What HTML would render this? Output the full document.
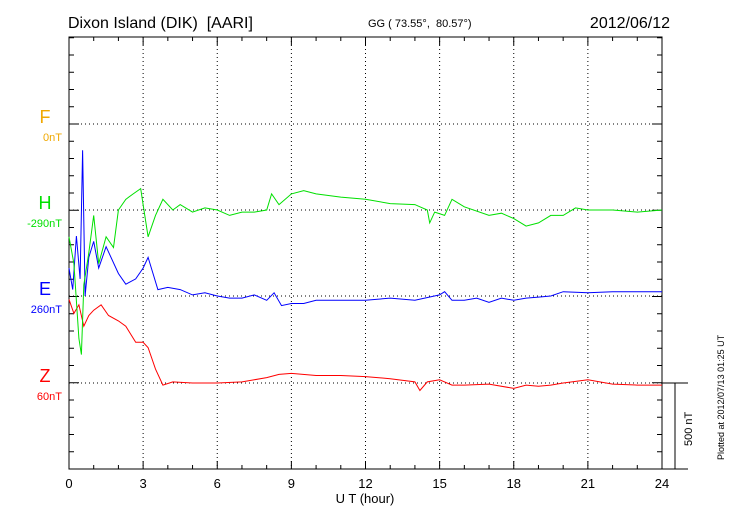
<!DOCTYPE html>
<html><head><meta charset="utf-8"><style>
body{margin:0;background:#fff}
svg text{font-family:"Liberation Sans",sans-serif;white-space:pre}
</style></head><body>
<svg id="c" width="730" height="520" xmlns="http://www.w3.org/2000/svg">
<rect width="730" height="520" fill="#fff"/>
<text x="68" y="28" font-size="16">Dixon Island (DIK)&#160;&#160;[AARI]</text>
<text x="368" y="27" font-size="11">GG ( 73.55°,&#160;&#160;80.57°)</text>
<text x="670" y="28" font-size="16" text-anchor="end">2012/06/12</text>
<text x="365" y="503" font-size="13" text-anchor="middle">U T (hour)</text>
<text transform="translate(724,460) rotate(-90)" font-size="9">Plotted at 2012/07/13 01:25 UT</text>
<text transform="translate(692,446) rotate(-90)" font-size="11">500 nT</text>
<g id="g"></g>
</svg>
<script>
const hours=[0,3,6,9,12,15,18,21,24];
const chNames=['F','H','E','Z'];
const chOffsets=['0nT','-290nT','260nT','60nT'];
const hT=[0,0.2,0.4,0.5,0.6,0.8,1.0,1.2,1.5,1.8,2.0,2.3,2.6,2.9,3.0,3.2,3.5,3.8,4.2,4.5,5,5.5,6,6.5,7,7.5,8,8.2,8.5,9,9.5,10,11,12,13,14,14.2,14.5,14.6,14.8,15.2,15.5,16,17,17.5,18,18.5,19,19.5,20,20.5,21,22,23,24];
const hV=[-150,-300,-720,-810,-420,-240,-30,-300,-150,-210,0,60,90,120,30,-150,-30,60,0,30,-12,12,0,-30,-12,-12,0,90,30,90,108,90,72,60,36,30,18,0,-72,-12,-30,60,18,-30,-18,-48,-90,-72,-30,-30,12,0,0,-12,0];
const eT=[0,0.15,0.3,0.45,0.55,0.65,0.8,1.0,1.2,1.5,2.0,2.3,2.7,3.0,3.2,3.4,3.6,4,4.5,5,5.5,6,6.5,7,7.5,8,8.3,8.6,9,9.5,10,11,12,13,14,15,15.2,15.5,16,16.5,17,17.5,18,18.5,19,19.5,20,21,22,23,24];
const eV=[156,36,336,96,816,0,216,306,156,276,126,66,96,156,216,126,36,48,36,6,18,0,-12,-12,6,-24,18,-54,-42,-42,-24,-24,-24,-12,-24,6,24,-24,-24,-12,-36,-12,-24,-12,-6,0,24,18,24,24,24];
const zT=[0,0.2,0.4,0.6,0.8,1.0,1.3,1.6,2.0,2.3,2.7,3.0,3.2,3.5,3.8,4.2,5,6,7,8,8.5,9,10,11,12,13,14,14.2,14.5,15,15.5,16,17,18,18.5,19,19.5,20,21,22,23,24];
const zV=[468,390,438,318,378,408,438,378,348,318,228,228,198,78,-12,6,0,0,6,30,48,54,42,42,36,24,6,-42,6,18,-12,-12,-6,-30,-12,-18,-12,0,18,-6,-12,-12];
const L=69,R=662,T=37,B=469,K=17.25;
const bases=[124,210,296,383];
const colors=['#f0a800','#00e000','#0000ff','#ff0000'];
const X=h=>L+h*(R-L)/24;
const Y=(b,v)=>b-v*K/100*1.035;
const g=document.getElementById('g');
const NS='http://www.w3.org/2000/svg';
function el(t,a){const e=document.createElementNS(NS,t);for(const k in a)e.setAttribute(k,a[k]);g.appendChild(e);return e;}
for(let i=1;i<hours.length-1;i++){
 const l=el('line',{x1:X(hours[i]),x2:X(hours[i]),y1:T,y2:B,stroke:'#000','stroke-dasharray':'1,3','stroke-width':1});
 
 
}
for(let i=0;i<4;i++){
 const l=el('line',{x1:L,x2:R,y1:bases[i],y2:bases[i],stroke:'#000','stroke-dasharray':'1,3','stroke-width':1});
 
 
 const t=el('text',{x:45,y:bases[i]-1,'font-size':18,'text-anchor':'middle',fill:colors[i]});
 t.textContent=chNames[i];
 
 
 const o=el('text',{x:62,y:bases[i]+17,'font-size':11,'text-anchor':'end',fill:colors[i]});
 o.textContent=chOffsets[i];
 
 
}
const f=el('rect',{x:L,y:T,width:R-L,height:B-T,fill:'none',stroke:'#000','stroke-width':1});


for(let y=B;y>=T-1;y-=K){
 const major=bases.some(b=>Math.abs(b-y)<2);
 const w=major?10:5;
 el('line',{x1:L,x2:L+w,y1:y,y2:y,stroke:'#000'});
 el('line',{x1:R-w,x2:R,y1:y,y2:y,stroke:'#000'});
}
for(let h=0;h<=24;h++){
 const w=h%3===0?8:4;
 el('line',{x1:X(h),x2:X(h),y1:B,y2:B-w,stroke:'#000'});
 el('line',{x1:X(h),x2:X(h),y1:T,y2:T+w,stroke:'#000'});
}
hours.forEach(h=>{
 const t=el('text',{x:X(h),y:488,'font-size':13,'text-anchor':'middle'});
 t.textContent=h;
 
 
});
el('line',{x1:R,x2:688,y1:383,y2:383,stroke:'#000'});
el('line',{x1:R,x2:688,y1:B,y2:B,stroke:'#000'});
const sb=el('line',{x1:675,x2:675,y1:383,y2:B,stroke:'#000'});


function series(ts,vs,b,c,name){
 const p=ts.map((t,i)=>(i?'L':'M')+X(t).toFixed(1)+','+Y(b,vs[i]).toFixed(1)).join('');
 const e=el('path',{d:p,fill:'none',stroke:c,'stroke-width':1});
 
 
}
series(zT,zV,bases[3],colors[3],'z-series');
series(eT,eV,bases[2],colors[2],'e-series');
series(hT,hV,bases[1],colors[1],'h-series');
</script>
</body></html>
